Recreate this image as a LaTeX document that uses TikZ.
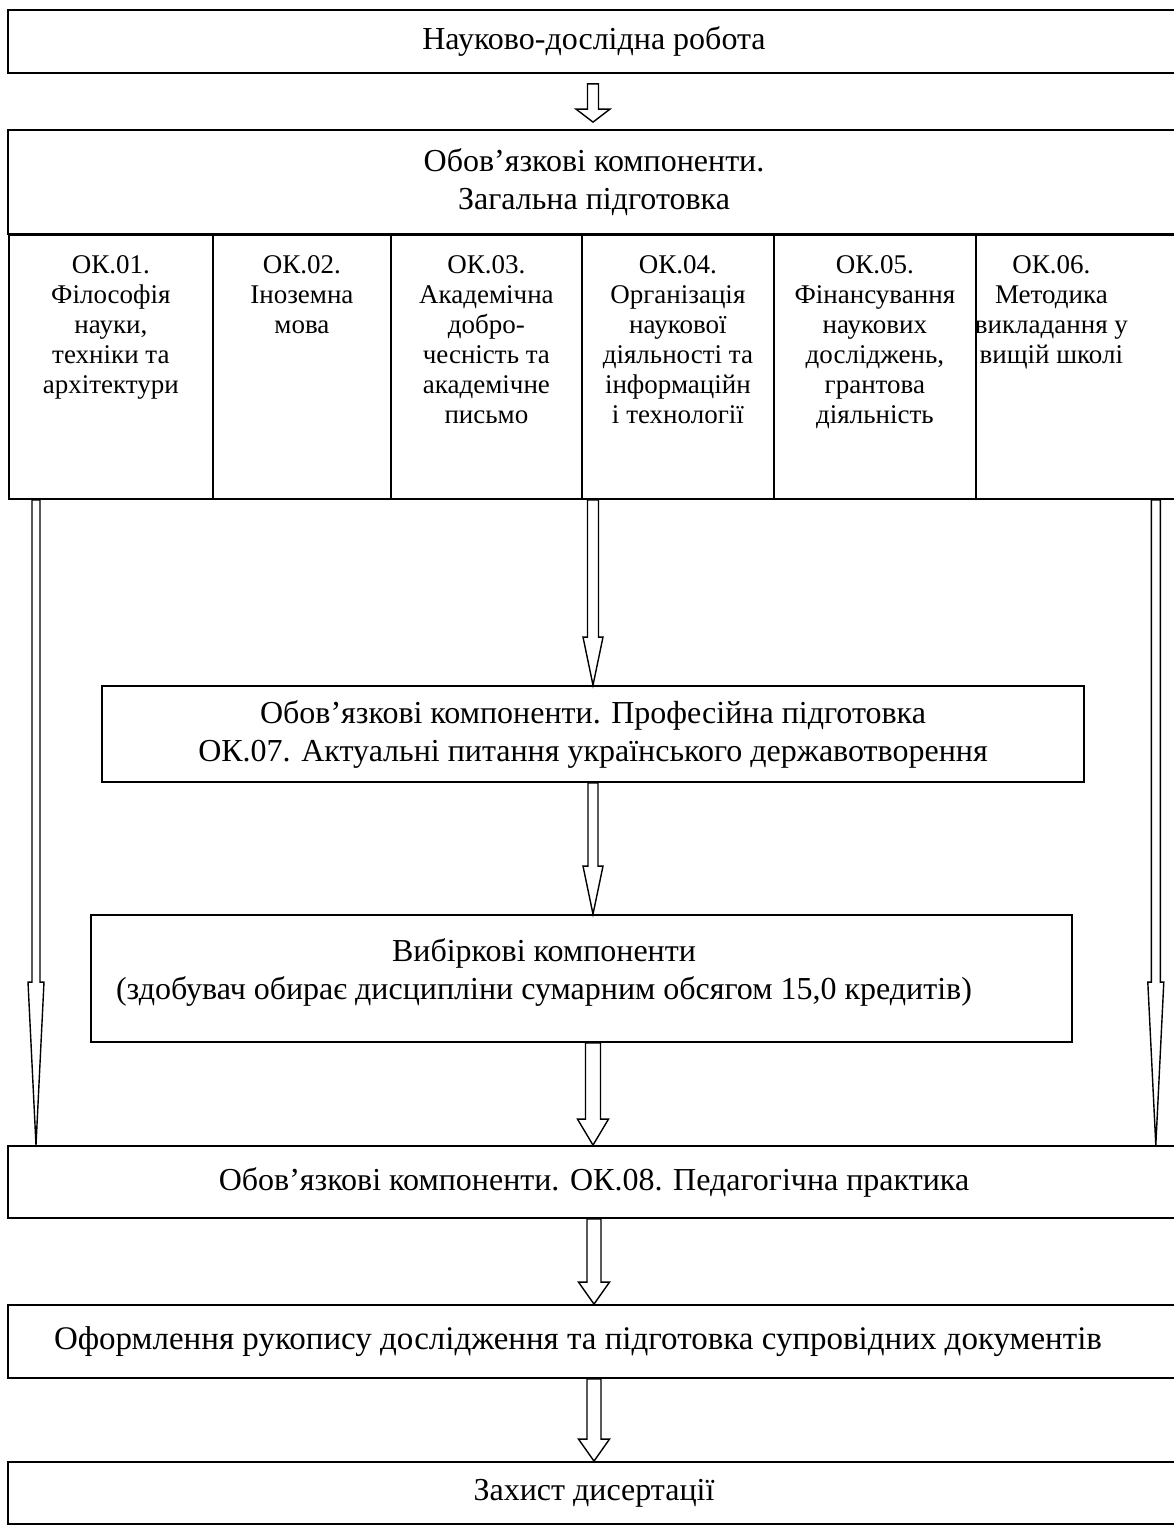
\documentclass[tikz,border=0pt]{standalone}
\usepackage{fontspec}
\setmainfont{Liberation Serif}
\usetikzlibrary{calc}
\usetikzlibrary{positioning}
\newcommand{\blockarrow}[5]{% from, to, shaft half width, head half width, head length
  \draw[hollow] let \p1=(#1), \p2=(#2) in
    (\x1-#3,\y1) -- (\x1-#3,\y2+#5) -- (\x1-#4,\y2+#5) -- (\x1,\y2)
    -- (\x1+#4,\y2+#5) -- (\x1+#3,\y2+#5) -- (\x1+#3,\y1) -- cycle;}
\tikzset{
x=1pt, y=-1pt, % one unit = one pixel of the scheme
box/.style={draw,line width=1.8pt,inner sep=0pt,align=center},
cell/.style={box,minimum width=#1,minimum height=264,anchor=north west},
coltext/.style={anchor=north,yshift=-21.6pt,inner sep=0pt,align=center,
  font=\fontsize{27}{30}\selectfont},
boxtext/.style={inner sep=0pt,align=center},
hollow/.style={line width=1.4pt,fill=white,line join=miter}
}
\begin{document}
\begin{tikzpicture}[font=\fontsize{32}{38}\selectfont]
\useasboundingbox (0,0) rectangle (1174,1529);
\node[box,minimum width=1172,minimum height=63] (top) at (594,41.5) {Науково-дослідна робота};
\node[box,minimum width=1172,minimum height=104] (gen) at (594,182) {Обов’язкові компоненти.\\Загальна підготовка};
% cells of general training
\node[cell=204] (c1) at (8,234)   [label={[coltext]90:{ОК.01.\\Філософія\\науки,\\техніки та\\архітектури}}] {};
\node[cell=178] (c2) at (212,234) [label={[coltext]90:{ОК.02.\\Іноземна\\мова}}] {};
\node[cell=191] (c3) at (390,234) [label={[coltext]90:{ОК.03.\\Академічна\\добро-\\чесність та\\академічне\\письмо}}] {};
\node[cell=192] (c4) at (581,234) [label={[coltext]90:{ОК.04.\\Організація\\наукової\\діяльності та\\інформаційн\\і технології}}] {};
\node[cell=202] (c5) at (773,234) [label={[coltext]90:{ОК.05.\\Фінансування\\наукових\\досліджень,\\грантова\\діяльність}}] {};
\node[cell=205] (c6) at (975,234) [label={[coltext,xshift=-27pt]90:{ОК.06.\\Методика\\викладання у\\вищій школі}}] {};
\node[box,minimum width=982,minimum height=96] (prof) at (593,734) {Обов’язкові компоненти. Професійна підготовка\\ОК.07. Актуальні питання українського державотворення};
\node[box,minimum width=981,minimum height=127] (vyb) at (581.5,978.5)
  [label={[boxtext,xshift=-37.5pt,yshift=6.5pt]center:{Вибіркові компоненти\\(здобувач обирає дисципліни сумарним обсягом 15,0 кредитів)}}] {};
\node[box,minimum width=1172,minimum height=72] (ok08) at (594,1182) {Обов’язкові компоненти. ОК.08. Педагогічна практика};
\node[box,minimum width=1172,minimum height=73] (ofor) at (594,1341.5)
  [label={[boxtext,xshift=-16pt,font=\fontsize{33}{38}\selectfont]center:{Оформлення рукопису дослідження та підготовка супровідних документів}}] {};
\node[box,minimum width=1172,minimum height=62] (zah) at (594,1493) {Захист дисертації};
% arrows
\blockarrow{[xshift=-1pt,yshift=-10pt]top.south}{[yshift=7pt]gen.north}{5.5}{17}{13}
\blockarrow{c4.south -| prof.north}{prof.north}{5.5}{10}{48}
\blockarrow{prof.south}{vyb.north -| prof.south}{5}{10}{48}
\blockarrow{vyb.south -| prof.south}{ok08.north}{7.5}{15.5}{26}
\blockarrow{ok08.south}{ofor.north}{7}{15.5}{22}
\blockarrow{ofor.south}{zah.north}{7}{15.5}{22}
\blockarrow{[xshift=28pt]c1.south west}{ok08.north}{4}{8}{163}
\blockarrow{[xshift=-26pt]c6.south east}{ok08.north}{4.5}{8}{163}
\end{tikzpicture}
\end{document}
